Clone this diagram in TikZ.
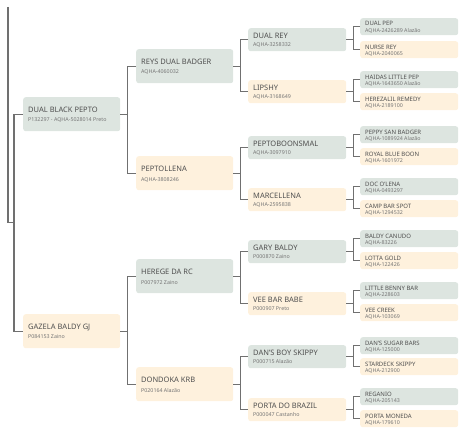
\documentclass[tikz,border=0pt]{standalone}
\usepackage{fontspec}
\setmainfont{Noto Sans}
\definecolor{gbox}{HTML}{DDE5E0}
\definecolor{obox}{HTML}{FEF1DD}
\definecolor{ttlcol}{HTML}{505050}
\definecolor{subcol}{HTML}{757575}
\definecolor{linecol}{HTML}{707070}
\tikzset{
  gb/.style={fill=gbox,draw=none,rounded corners=2.5pt,inner sep=0pt},
  ob/.style={fill=obox,draw=none,rounded corners=2.5pt,inner sep=0pt},
  ttlbig/.style={font=\fontsize{7.5}{9}\selectfont,text=ttlcol,inner sep=0pt},
  ttlsmall/.style={font=\fontsize{6}{7}\selectfont,text=ttlcol,inner sep=0pt},
  subtxt/.style={font=\fontsize{5.3}{6}\selectfont,text=subcol,inner sep=0pt},
  conn/.style={draw=linecol,line width=1.1pt}
}
% #1 id, #2 x, #3 top, #4 w, #5 h, #6 box style, #7 title, #8 sub
\newcommand\pedbox[8]{%
  \node[#6,minimum width=#4pt,minimum height=#5pt,anchor=north west] (#1) at (#2,#3) {};
  \node[\ttlstyle,anchor=base west] (#1-t) at ({#2+5},{#3+\ttloff}) {#7};
  \node[subtxt,anchor=base west] (#1-s) at ({#2+5},{#3+\suboff}) {#8};
}
\newcommand\bracket[3]{%
  \draw[conn] (#1.east) -- ++(7,0) coordinate (#1-m);
  \draw[conn] (#2.west) -| (#1-m) |- (#3.west);
}
\begin{document}
\begin{tikzpicture}[x=1pt,y=-1pt]
\useasboundingbox (0,0) rectangle (465,436);
% level 1
\def\ttlstyle{ttlbig}\def\ttloff{15}\def\suboff{24.5}
\pedbox{a}{23}{97}{97}{34}{gb}{DUAL BLACK PEPTO}{P132297 - AQHA-5028014 Preto}
\pedbox{b}{23}{314}{97}{34}{ob}{GAZELA BALDY GJ}{P084153 Zaino}
% level 2
\def\ttloff{15}\def\suboff{25}
\pedbox{aa}{136}{49}{97}{34}{gb}{REYS DUAL BADGER}{AQHA-4060032}
\pedbox{ab}{136}{156}{97}{34}{ob}{PEPTOLLENA}{AQHA-3808246}
\pedbox{ba}{136}{259}{97}{34}{gb}{HEREGE DA RC}{P007972 Zaino}
\pedbox{bb}{136}{367}{97}{34}{ob}{DONDOKA KRB}{P020164 Alazão}
% level 3
\def\ttloff{10}\def\suboff{18}
\pedbox{aaa}{248}{28}{98}{23}{gb}{DUAL REY}{AQHA-3258332}
\pedbox{aab}{248}{80}{98}{23}{ob}{LIPSHY}{AQHA-3168649}
\pedbox{aba}{248}{136}{98}{23}{gb}{PEPTOBOONSMAL}{AQHA-3097910}
\pedbox{abb}{248}{188}{98}{23}{ob}{MARCELLENA}{AQHA-2595838}
\pedbox{baa}{248}{240}{98}{23}{gb}{GARY BALDY}{P000870 Zaino}
\pedbox{bab}{248}{292}{98}{23}{ob}{VEE BAR BABE}{P000907 Preto}
\pedbox{bba}{248}{345}{98}{23}{gb}{DAN'S BOY SKIPPY}{P000715 Alazão}
\pedbox{bbb}{248}{398}{98}{23}{ob}{PORTA DO BRAZIL}{P000047 Castanho}
% level 4
\def\ttlstyle{ttlsmall}\def\ttloff{8}\def\suboff{14.5}
\pedbox{aaaa}{360}{18}{98}{17}{gb}{DUAL PEP}{AQHA-2426289 Alazão}
\pedbox{aaab}{360}{41}{98}{17}{ob}{NURSE REY}{AQHA-2040065}
\pedbox{aaba}{360}{71}{98}{17}{gb}{HAIDAS LITTLE PEP}{AQHA-1643650 Alazão}
\pedbox{aabb}{360}{93}{98}{17}{ob}{HEREZALIL REMEDY}{AQHA-2189100}
\pedbox{abaa}{360}{126}{98}{17}{gb}{PEPPY SAN BADGER}{AQHA-1089924 Alazão}
\pedbox{abab}{360}{148}{98}{17}{ob}{ROYAL BLUE BOON}{AQHA-1601972}
\pedbox{abba}{360}{178}{98}{17}{gb}{DOC O'LENA}{AQHA-0493297}
\pedbox{abbb}{360}{200}{98}{17}{ob}{CAMP BAR SPOT}{AQHA-1294532}
\pedbox{baaa}{360}{230}{98}{17}{gb}{BALDY CANUDO}{AQHA-83226}
\pedbox{baab}{360}{252}{98}{17}{ob}{LOTTA GOLD}{AQHA-122426}
\pedbox{baba}{360}{282}{98}{17}{gb}{LITTLE BENNY BAR}{AQHA-228603}
\pedbox{babb}{360}{304}{98}{17}{ob}{VEE CREEK}{AQHA-103069}
\pedbox{bbaa}{360}{337}{98}{17}{gb}{DAN'S SUGAR BARS}{AQHA-125000}
\pedbox{bbab}{360}{358}{98}{17}{ob}{STARDECK SKIPPY}{AQHA-212900}
\pedbox{bbba}{360}{388}{98}{17}{gb}{REGANIO}{AQHA-205143}
\pedbox{bbbb}{360}{410}{98}{17}{ob}{PORTA MONEDA}{AQHA-179610}
% root connector
\coordinate (root) at (8,7);
\coordinate (root-m) at (14,222.5);
\draw[conn] (root) |- (root-m);
\draw[conn] (a.west) -| (root-m) |- (b.west);
% brackets
\bracket{a}{aa}{ab}
\bracket{b}{ba}{bb}
\bracket{aa}{aaa}{aab}
\bracket{ab}{aba}{abb}
\bracket{ba}{baa}{bab}
\bracket{bb}{bba}{bbb}
\bracket{aaa}{aaaa}{aaab}
\bracket{aab}{aaba}{aabb}
\bracket{aba}{abaa}{abab}
\bracket{abb}{abba}{abbb}
\bracket{baa}{baaa}{baab}
\bracket{bab}{baba}{babb}
\bracket{bba}{bbaa}{bbab}
\bracket{bbb}{bbba}{bbbb}
\end{tikzpicture}
\end{document}
